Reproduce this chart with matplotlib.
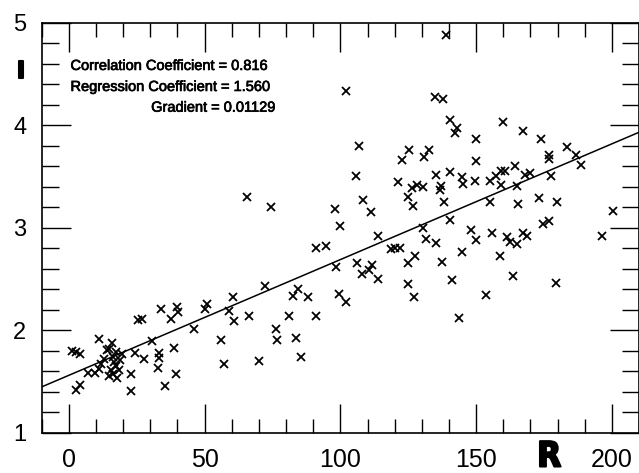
import numpy as np
import matplotlib
matplotlib.use("Agg")
import matplotlib.pyplot as plt
from matplotlib import patheffects
from matplotlib.ticker import MultipleLocator
from matplotlib.transforms import blended_transform_factory

plt.rcParams['font.family'] = ['Liberation Sans', 'DejaVu Sans']

# R values (x) and I values (y)
r_vals = [1.25, 2.46, 3.93, 2.46, 3.93, 6.99, 9.8, 11.1, 11.1, 13.9, 15.9, 11.8,
          14.7, 13.1, 16.1, 16.8, 17.5, 15.7, 16.4, 14.9, 18.3, 19.0, 19.4, 17.9, 17.2,
          22.7, 23.05, 24.3, 27.6, 25.6, 27.1, 30.7, 32.9, 33.3, 33.3, 35.4, 34.1, 37.6,
          38.9, 40.0, 40.1, 39.6, 46.0, 50.3, 51.0, 55.9, 57.2, 59.0, 60.4, 61.0, 66.5,
          69.9, 72.1, 76.4, 76.5, 81.0, 82.4, 84.3, 83.6, 85.6, 88.2, 91.2, 65.6, 74.3,
          90.9, 94.7, 98.1, 99.9, 98.4, 99.6, 102.1, 102.1, 105.7, 107.0, 108.2, 111.2,
          106.0, 107.9, 110.7, 111.5, 113.8, 113.9, 118.6, 120.3, 121.9, 121.3, 122.8,
          125.4, 125.0, 126.8, 126.25, 128.4, 130.5, 127.5, 125.0, 124.9, 127.1, 130.5,
          131.4, 132.6, 130.8, 134.8, 137.9, 138.9, 135.4, 140.3, 137.0, 136.7, 138.2,
          135.4, 137.5, 140.3, 140.3, 142.8, 142.2, 141.25, 143.8, 144.7, 144.7, 145.2,
          148.05, 150.1, 149.5, 150.1, 150.1, 153.8, 155.0, 155.0, 156.0, 157.5, 158.7,
          159.3, 160.8, 159.3, 159.8, 161.2, 162.4, 164.9, 163.6, 164.3, 164.9, 165.5,
          167.1, 167.3, 168.9, 167.9, 169.7, 173.0, 174.0, 174.5, 176.7, 176.7, 176.7,
          177.5, 179.3, 179.9, 183.6, 186.7, 188.8, 196.2, 200.4]
i_vals = [1.80, 1.79, 1.77, 1.42, 1.47, 1.585, 1.585, 1.62, 1.91, 1.81, 1.88, 1.67,
          1.82, 1.72, 1.74, 1.69, 1.65, 1.61, 1.57, 1.55, 1.61, 1.71, 1.77, 1.53, 1.79,
          1.41, 1.57, 1.78, 1.72, 2.10, 2.11, 1.89, 1.63, 1.73, 1.78, 1.46, 2.21, 2.11,
          1.83, 2.23, 2.18, 1.57, 2.01, 2.21, 2.26, 1.90, 1.67, 2.19, 2.32, 2.09, 2.14,
          1.70, 2.43, 2.01, 1.90, 2.14, 2.33, 2.40, 1.92, 1.74, 2.32, 2.14, 3.30, 3.20,
          2.80, 2.82, 3.185, 3.02, 2.62, 2.35, 2.28, 4.33, 3.50, 3.80, 3.27, 3.15,
          2.66, 2.55, 2.59, 2.64, 2.50, 2.92, 2.79, 2.80, 2.80, 3.45, 3.66,
          3.76, 3.30, 3.21, 3.39, 3.42, 3.40, 2.72, 2.66, 2.45, 2.32, 3.00,
          2.89, 3.76, 3.69, 4.28, 4.26, 4.88, 3.51, 3.54, 3.41, 3.37, 3.25,
          2.85, 2.67, 3.08, 4.05, 3.97, 3.92, 2.49, 2.12, 2.76, 3.49, 3.43,
          2.98, 2.88, 3.46, 3.87, 3.65, 2.34, 3.46, 3.25, 2.95, 3.50, 2.72,
          3.55, 3.55, 3.42, 4.03, 2.91, 2.86, 2.84, 2.53, 3.60, 3.41, 3.23,
          3.94, 2.95, 2.92, 3.51, 3.53, 3.29, 3.87, 3.04, 3.07, 3.71, 3.67,
          3.50, 2.46, 3.25, 3.79, 3.71, 3.61, 2.92, 3.16]

corr_coef = 0.816
intercept = 1.560
gradient = 0.01129

fig = plt.figure(figsize=(6.39, 4.73), dpi=100)
ax = fig.add_axes([0.0653, 0.0852, 0.9347, 0.8668])

ax.plot(r_vals, i_vals, 'x', color='black', markersize=5.5, markeredgewidth=1.3)
xs = np.array([-10, 210])
ax.plot(xs, intercept + gradient * xs, color='black', linewidth=1.1)

ax.set_xlim(-10, 210)
ax.set_ylim(1, 5)
ax.xaxis.set_major_locator(MultipleLocator(50))
ax.xaxis.set_minor_locator(MultipleLocator(10))
ax.yaxis.set_major_locator(MultipleLocator(1))
ax.yaxis.set_minor_locator(MultipleLocator(0.2))
ax.tick_params(which='both', direction='in', top=True, right=True, width=1.0, color='black')
ax.tick_params(which='major', length=21, pad=11)
ax.tick_params(axis='x', which='minor', length=10)
ax.tick_params(axis='y', which='minor', length=12)
ax.tick_params(axis='x', labelsize=18)
ax.tick_params(axis='y', labelsize=17)
for s in ax.spines.values():
    s.set_linewidth(1.2)

thin = [patheffects.withStroke(linewidth=0.5, foreground='black')]
ax.text(0.6, 4.539, f"Correlation Coefficient = {corr_coef:.3f}", fontsize=10.5,
        va='baseline', ha='left', path_effects=thin)
ax.text(0.6, 4.334, f"Regression Coefficient = {intercept:.3f}", fontsize=10.5,
        va='baseline', ha='left', path_effects=thin)
ax.text(76.4, 4.132, f"Gradient = {gradient:.5f}", fontsize=10.5,
        va='baseline', ha='right', path_effects=thin)

heavy = [patheffects.withStroke(linewidth=1.5, foreground='black')]
trans = blended_transform_factory(ax.transData, ax.transAxes)
ax.text(176.9, -0.058, "R", transform=trans, fontsize=25, fontweight='bold',
        family='DejaVu Sans', fontstretch='condensed', ha='center', va='center',
        path_effects=heavy, clip_on=False)
ax.text(-0.0347, 0.881, "I", transform=ax.transAxes, fontsize=17, fontweight='bold',
        family='DejaVu Sans', fontstretch='condensed', ha='center', va='center',
        path_effects=heavy, clip_on=False)

fig.savefig("out.png", dpi=100)
